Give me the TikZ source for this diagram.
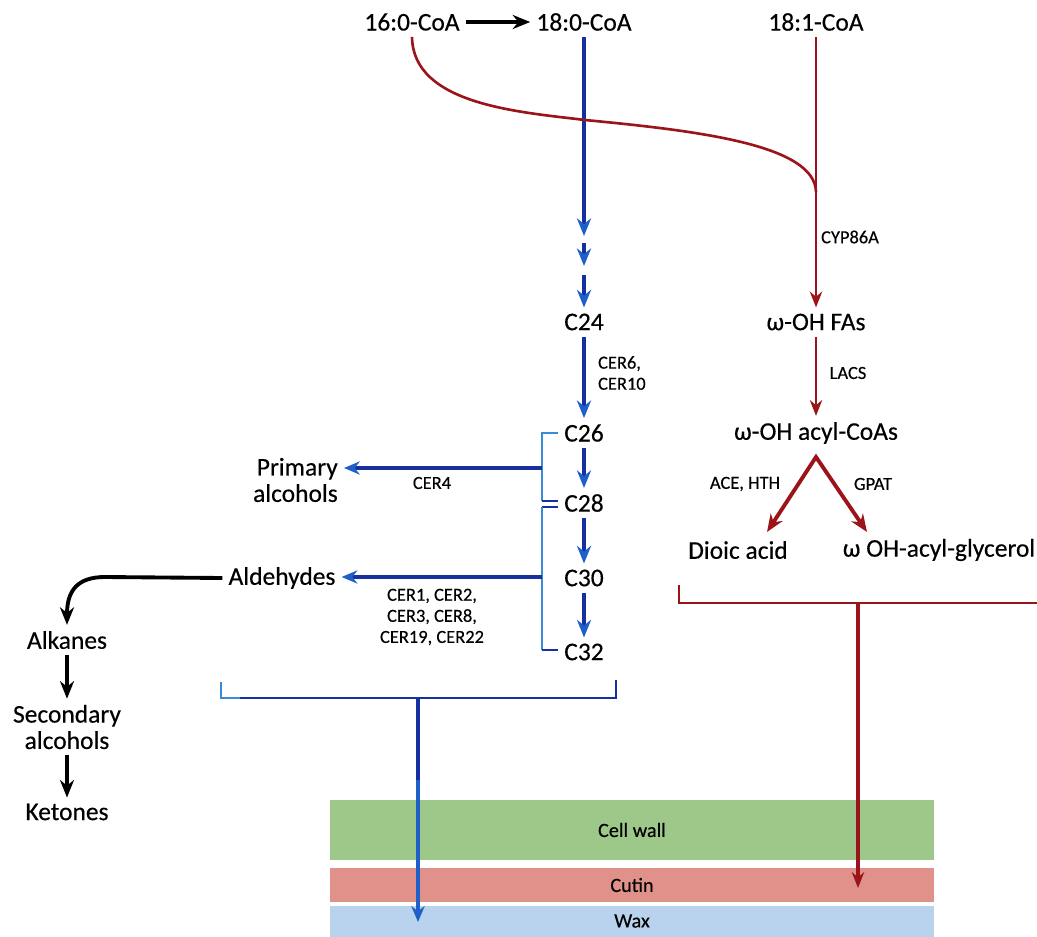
\documentclass[tikz,border=0pt]{standalone}
\usepackage{fontspec}
\setmainfont{Carlito}[FakeBold=0.35]
\usepackage{xcolor}
\usetikzlibrary{arrows.meta}

\definecolor{bluepath}{RGB}{22,48,160}
\definecolor{bluetip}{RGB}{30,95,200}
\definecolor{bluelight}{RGB}{55,140,215}
\definecolor{redpath}{RGB}{155,20,25}
\definecolor{wallgreen}{RGB}{157,200,137}
\definecolor{cutinred}{RGB}{224,146,138}
\definecolor{waxblue}{RGB}{185,210,237}

\begin{document}
\begin{tikzpicture}[x=0.02cm, y=-0.02cm, >=Stealth,
  big/.style={font=\fontsize{14.5}{15}\selectfont, text=black},
  small/.style={font=\fontsize{10.5}{12}\selectfont, text=black, inner sep=1pt},
  barlbl/.style={font=\fontsize{11.5}{12}\selectfont, text=black},
  bluearr/.style={draw=bluepath, line width=2.2pt, -{Stealth[length=10pt,width=8pt,color=bluetip]}},
  bluehoriz/.style={draw=bluepath, line width=1.9pt, -{Stealth[length=9pt,width=7.5pt,color=bluetip]}},
  bluebrk/.style={draw=bluepath, line width=1.2pt},
  lightbrk/.style={draw=bluelight, line width=1.2pt},
  redline/.style={draw=redpath, line width=1.5pt},
  redarr/.style={draw=redpath, line width=1.5pt, -{Stealth[length=9pt,width=7pt]}},
  blkarr/.style={draw=black, line width=2.2pt, -{Stealth[length=10pt,width=8pt]}}]
\useasboundingbox (0,0) rectangle (1037,936);

% cell layers
\fill[wallgreen] (330,800) rectangle (934,860);
\fill[cutinred] (330,868) rectangle (934,902);
\fill[waxblue] (330,906) rectangle (934,940);
\node[barlbl] (wall) at (632,830) {Cell wall};
\node[barlbl] (cutin) at (632,885) {Cutin};
\node[barlbl] (wax) at (632,921) {Wax};

% acyl-CoAs
\node[big] (c16) at (412,22) {16:0-CoA};
\node[big] (c18) at (584,22) {18:0-CoA};
\node[big] (c181) at (816,22) {18:1-CoA};
\draw[blkarr] (c16) -- (c18);

% elongation
\node[big] (c24) at (584,322) {C24};
\node[big] (c26) at (584,433) {C26};
\node[big] (c28) at (584,503) {C28};
\node[big] (c30) at (584,578) {C30};
\node[big] (c32) at (584,652) {C32};
\coordinate (d1) at (584,236);
\coordinate (d2s) at (584,243);
\coordinate (d2) at (584,266);
\coordinate (d3s) at (584,275);
\draw[bluearr] (c18) -- (d1);
\draw[bluearr] (d2s) -- (d2);
\draw[bluearr] (d3s) -- (c24);
\draw[bluearr] (c24) -- (c26);
\draw[bluearr] (c26) -- (c28);
\draw[bluearr] (c28) -- (c30);
\draw[bluearr] (c30) -- (c32);
\node[small, align=left, anchor=west] (cer6) at (596,373) {CER6,\\CER10};

% brackets on C26-C32
\draw[lightbrk] (558,433) -- (542,433) -- (542,501);
\draw[bluebrk] (542,501) -- (558,501);
\draw[bluebrk] (558,507) -- (542,507);
\draw[lightbrk] (542,507) -- (542,650);
\draw[bluebrk] (542,650) -- (558,650);

% alcohol and alkane branches
\node[big, align=right, anchor=east] (prim) at (344,480) {Primary\\alcohols};
\node[big] (ald) at (282,578) {Aldehydes};
\coordinate (j1) at (542,468);
\coordinate (j2) at (542,577);
\draw[bluehoriz] (j1) -- (j1 -| prim.east);
\draw[bluehoriz] (j2) -- (j2 -| ald.east);
\node[small] (cer4) at (432,483) {CER4};
\node[small, align=center] (cer1) at (432,617) {CER1, CER2,\\CER3, CER8,\\CER19, CER22};

\node[big] (alk) at (67,640) {Alkanes};
\node[big, align=center] (sec) at (67,727) {Secondary\\alcohols};
\node[big] (ket) at (67,812) {Ketones};
\draw[blkarr] (ald.west) -- (105,577) .. controls (78,577) and (67,590) .. (alk.north);
\draw[blkarr] (alk) -- (sec);
\draw[blkarr] (sec) -- (ket);

% wax export
\draw[lightbrk] (221,682) -- (221,698) -- (240,698);
\draw[bluebrk] (240,698) -- (616,698) -- (616,680);
\coordinate (bst) at (418,698);
\coordinate (bmid) at (418,780);
\coordinate (btip) at (418,922);
\draw[draw=bluepath, line width=1.9pt] (bst) -- (bmid);
\draw[bluehoriz, draw=bluetip] (bmid) -- (btip);

% cutin monomers
\node[big] (ohfa) at (816,322) {ω-OH FAs};
\node[big] (ohcoa) at (816,433) {ω-OH acyl-CoAs};
\node[big] (dioic) at (738,550) {Dioic acid};
\node[big] (glyc) at (939,550) {ω OH-acyl-glycerol};
\coordinate (join) at (816,192);
\draw[redline] (c16.south) .. controls (413,105) and (520,112) .. (585,120)
  .. controls (700,131) and (815,145) .. (join);
\draw[redarr] (c181) -- (ohfa);
\draw[redarr] (ohfa) -- (ohcoa);
\node[small] (cyp) at (850,237) {CYP86A};
\node[small] (lacs) at (848,373) {LACS};
\coordinate (vtop) at (816,457);
\coordinate (vl) at (767,532);
\coordinate (vr) at (867,532);
\draw[draw=redpath, line width=2.2pt, {Stealth[length=10pt,width=8pt]}-{Stealth[length=10pt,width=8pt]}] (vl) -- (vtop) -- (vr);
\node[small] (acehth) at (745,484) {ACE, HTH};
\node[small] (gpat) at (873,484) {GPAT};

% cutin export
\draw[redline] (679,585) -- (679,603) -- (1040,603);
\coordinate (rst) at (858,603);
\coordinate (rtip) at (858,888);
\draw[redarr, line width=2.2pt] (rst) -- (rtip);
\end{tikzpicture}
\end{document}
